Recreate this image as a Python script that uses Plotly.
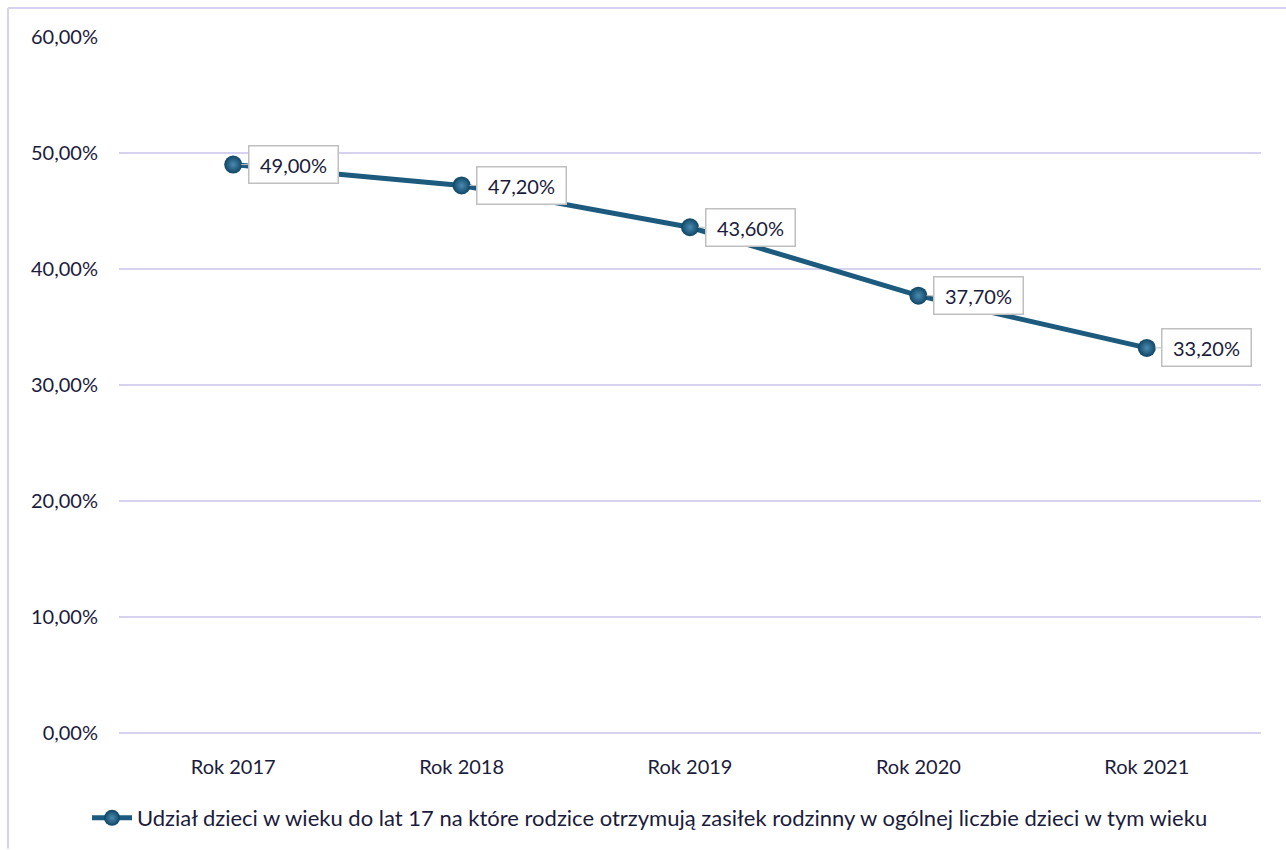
import plotly.graph_objects as go

categories = ["Rok 2017", "Rok 2018", "Rok 2019", "Rok 2020", "Rok 2021"]
values = [0.490, 0.472, 0.436, 0.377, 0.332]
series_name = "Udział dzieci w wieku do lat 17 na które rodzice otrzymują zasiłek rodzinny w ogólnej liczbie dzieci w tym wieku"
y_ticks = [0, 0.1, 0.2, 0.3, 0.4, 0.5, 0.6]

W, H = 1286, 850
L, R, T, B = 119, 25, 37, 116
PW, PH = W - L - R, H - T - B

def px_x(p):
    return (p - L) / PW

def px_y(p):
    return (H - B - p) / PH

TEXT = "#1b1b3c"
LINE = "#1c5b7d"
GRID = "#d6d2f0"
FONT = "Lato, Carlito, Calibri, sans-serif"
FS = 20

fig = go.Figure()
fig.add_trace(go.Scatter(
    x=categories, y=values, name=series_name, mode="lines+markers",
    line=dict(color=LINE, width=5),
    marker=dict(size=18, color="#0f4565",
                gradient=dict(type="radial", color="#4a8bb0"),
                line=dict(width=0)),
))

for c, v in zip(categories, values):
    fig.add_annotation(
        x=c, y=v, text=f"{v*100:.2f}%".replace(".", ","),
        showarrow=True, ax=60, ay=0, axref="pixel", ayref="pixel",
        arrowhead=0, arrowwidth=1, arrowcolor="#bfbfbf", standoff=8,
        bgcolor="white", bordercolor="#bfbfbf", borderwidth=1.5, borderpad=3,
        width=82, height=30,
        font=dict(family=FONT, size=FS, color=TEXT),
    )

fig.add_shape(type="line", xref="paper", yref="paper",
              x0=px_x(8), x1=px_x(8), y0=px_y(850), y1=px_y(8),
              line=dict(color=GRID, width=2))
fig.add_shape(type="line", xref="paper", yref="paper",
              x0=px_x(8), x1=px_x(1286), y0=px_y(8), y1=px_y(8),
              line=dict(color=GRID, width=2))

fig.update_layout(
    width=W, height=H,
    margin=dict(l=L, r=R, t=T, b=B),
    paper_bgcolor="white", plot_bgcolor="white",
    separators=", ",
    font=dict(family=FONT, size=FS, color=TEXT),
    showlegend=True,
    legend=dict(orientation="h", x=0.465, xanchor="center", y=px_y(818), yanchor="middle",
                font=dict(family=FONT, size=22, color=TEXT), itemwidth=40),
    xaxis=dict(range=[-0.5, 4.5], showgrid=False, zeroline=False, showline=False,
               ticks="", ticklabelstandoff=20),
    yaxis=dict(range=[0, 0.6], tickvals=y_ticks, tickformat=".2%",
               showgrid=True, gridcolor=GRID, gridwidth=2,
               zeroline=True, zerolinecolor=GRID, zerolinewidth=2,
               showline=False, ticks="", ticklabelstandoff=20),
)

fig.write_html("out.html", config={"displayModeBar": False},
               post_script="document.body.style.margin='0';document.body.style.overflow='hidden';")
